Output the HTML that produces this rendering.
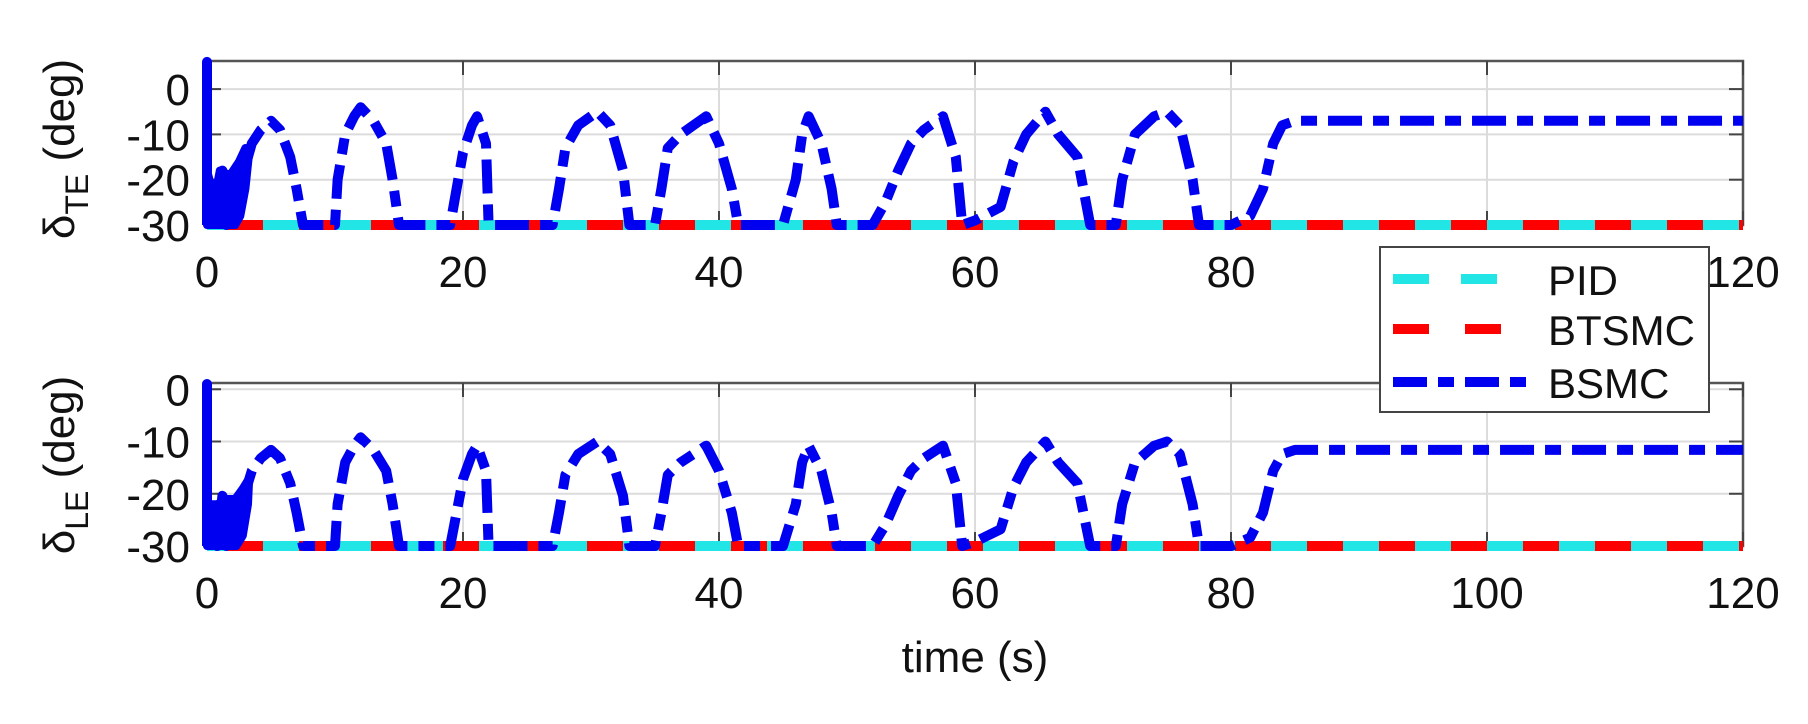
<!DOCTYPE html>
<html><head><meta charset="utf-8"><style>
html,body{margin:0;padding:0;background:#fff;}
svg{display:block;font-family:"Liberation Sans",Arial,sans-serif;}
</style></head><body>
<svg id="s" width="1808" height="724" viewBox="0 0 1808 724" xmlns="http://www.w3.org/2000/svg">
<rect width="1808" height="724" fill="#fff"/>
<g id="g"></g>
<text transform="translate(74,149) rotate(-90)" text-anchor="middle" font-size="44" fill="#111">δ<tspan font-size="32" dy="14">TE</tspan><tspan dy="-14"> (deg)</tspan></text>
<text transform="translate(74,465) rotate(-90)" text-anchor="middle" font-size="44" fill="#111">δ<tspan font-size="32" dy="14">LE</tspan><tspan dy="-14"> (deg)</tspan></text>
<text x="975" y="672" text-anchor="middle" font-size="44" fill="#111">time (s)</text>
<g id="leg">
<rect x="1380" y="247" width="329" height="165" fill="#fff" stroke="#444" stroke-width="2"/>
<line x1="1393" y1="279" x2="1528" y2="279" stroke="#22e5e5" stroke-width="10" stroke-dasharray="36 32"/>
<line x1="1393" y1="329" x2="1528" y2="329" stroke="#f00" stroke-width="10" stroke-dasharray="36 36"/>
<line x1="1393" y1="382" x2="1530" y2="382" stroke="#0000f0" stroke-width="10" stroke-dasharray="34 11 16 11"/>
<text x="1548" y="295" font-size="42" fill="#111">PID</text>
<text x="1548" y="345" font-size="42" fill="#111">BTSMC</text>
<text x="1548" y="398" font-size="42" fill="#111">BSMC</text>
</g>
</svg>
<script>
(function(){
var NS="http://www.w3.org/2000/svg",g=document.getElementById('g');
function el(n,a){var e=document.createElementNS(NS,n);for(var k in a)e.setAttribute(k,a[k]);g.appendChild(e);return e;}
var X0=207,X1=1743,sx=(X1-X0)/120;
function X(t){return X0+t*sx;}
var topData=[[0,-30],[0,6],[0,-30],[0.5,-22],[0.8,-30],[1.2,-18],[1.5,-30],[2,-20],[2.5,-28],[3,-17],[3.5,-12],[4.2,-9],[5,-7],[5.7,-9],[6.5,-15],[7,-22],[7.5,-30],[10,-30],[10.2,-20],[10.8,-10],[11.5,-6],[12,-4],[13,-7],[14,-12],[14.5,-20],[15,-30],[19,-30],[19.5,-22],[20,-14],[20.7,-8],[21.1,-6],[21.8,-12],[22,-30],[27,-30],[27.5,-22],[28,-13],[29,-8],[30.5,-5],[31.5,-8],[32.5,-18],[33,-30],[35,-30],[35.5,-22],[36,-13],[37,-10],[38,-8],[39,-6],[40,-12],[41,-22],[41.5,-30],[45,-30],[46,-20],[46.5,-10],[47,-6],[48,-12],[48.8,-22],[49.2,-30],[52,-30],[53,-25],[54,-18],[55,-12],[56,-9],[57.5,-6],[58.5,-15],[59,-30],[60,-29],[62,-26],[63,-16],[64,-10],[65.5,-5],[66.5,-10],[68,-15],[69,-30],[71,-30],[71.5,-20],[72.5,-10],[74,-6],[75,-5],[76,-8],[77,-20],[77.5,-30],[80,-30],[81.5,-28],[82.5,-22],[83.3,-12],[84,-8],[85,-7],[120,-7]];
function axes(yTop,yBot,vTop,ticks,data,blob){
  var sy=(yBot-yTop)/(vTop+30);
  function Y(v){return yBot-(v+30)*sy;}
  for(var t=20;t<120;t+=20) el('line',{x1:X(t),x2:X(t),y1:yTop,y2:yBot,stroke:'#dcdcdc','stroke-width':2});
  ticks.forEach(function(v){ if(v>-30) el('line',{x1:X0,x2:X1,y1:Y(v),y2:Y(v),stroke:'#dcdcdc','stroke-width':2});});
  el('rect',{x:X0,y:yTop,width:X1-X0,height:yBot-yTop,fill:'none',stroke:'#555','stroke-width':2.5});
  for(var t=0;t<=120;t+=20){
    el('line',{x1:X(t),x2:X(t),y1:yTop,y2:yTop+14,stroke:'#444','stroke-width':2});
    el('line',{x1:X(t),x2:X(t),y1:yBot,y2:yBot-14,stroke:'#444','stroke-width':2});
    var tx=el('text',{x:X(t),y:yBot+62,'text-anchor':'middle','font-size':44,fill:'#111'});tx.textContent=t;
  }
  ticks.forEach(function(v){
    el('line',{x1:X0,x2:X0+14,y1:Y(v),y2:Y(v),stroke:'#444','stroke-width':2});
    el('line',{x1:X1,x2:X1-14,y1:Y(v),y2:Y(v),stroke:'#444','stroke-width':2});
    var tx=el('text',{x:190,y:Y(v)+16,'text-anchor':'end','font-size':44,fill:'#111'});tx.textContent=v;
  });
  el('line',{x1:X0,x2:X1,y1:Y(-30),y2:Y(-30),stroke:'#22e5e5','stroke-width':10});
  el('line',{x1:X0,x2:X1,y1:Y(-30),y2:Y(-30),stroke:'#f00','stroke-width':10,'stroke-dasharray':'36 36','stroke-dashoffset':'-20'});
  var d=data.map(function(p,i){return (i?'L':'M')+X(p[0]).toFixed(1)+','+Y(p[1]).toFixed(1);}).join('');
  el('path',{d:d,fill:'none',stroke:'#0000f0','stroke-width':10,'stroke-dasharray':'34 11 16 11','stroke-linejoin':'round'});
  // dense early region
  var bd=blob.map(function(p,i){return (i?'L':'M')+X(p[0]).toFixed(1)+','+Y(p[1]).toFixed(1);}).join('')+'Z';
  el('path',{d:bd,fill:'#0000f0',stroke:'#0000f0','stroke-width':8,'stroke-linejoin':'round'});
  el('line',{x1:X(0),x2:X(0),y1:Y(-30),y2:Y(data[1][1]),stroke:'#0000f0','stroke-width':10});
}
axes(61,225,6.2,[0,-10,-20,-30],topData,[[0,-30],[0,-18],[0.6,-24],[1,-18],[1.8,-19],[2.5,-16],[3,-13],[3.3,-14],[3,-22],[2.6,-28],[2.2,-30]]);
var bot=topData.map(function(p){return [p[0],-30+(p[1]+30)*0.8];});
bot[1]=[0,1];
axes(383,546,1.2,[0,-10,-20,-30],bot,[[0,-30],[0,-22],[0.8,-22],[1.5,-21],[2.2,-21],[2.8,-19],[3.3,-17],[3.2,-22],[2.8,-28],[2.3,-30]]);
var s=document.getElementById('s');s.appendChild(document.getElementById('leg'));
})();
</script>
</body></html>
